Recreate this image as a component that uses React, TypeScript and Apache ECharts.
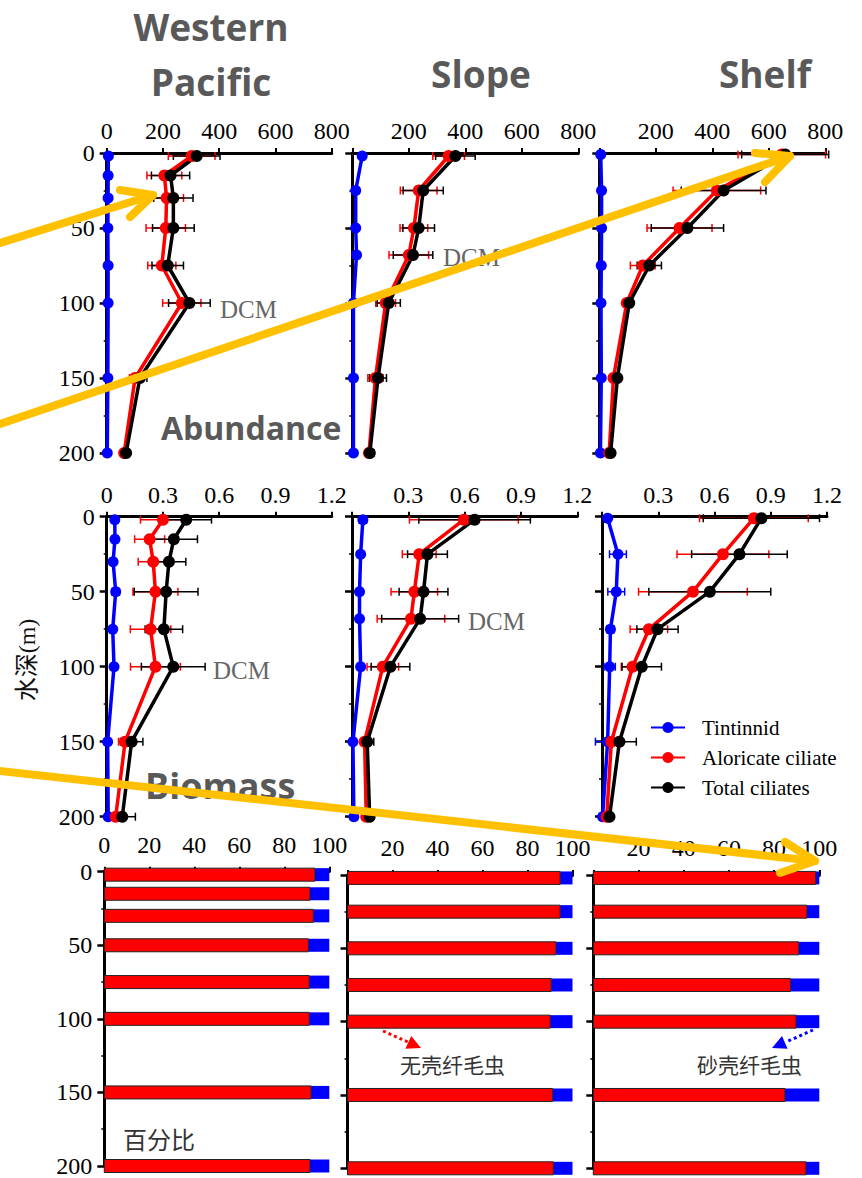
import React, { useEffect, useRef } from "react";
import * as echarts from "echarts";

// ---------- depths (m) ----------
const wpDepth = [2, 15, 30, 50, 75, 100, 150, 200];
const slopeDepth = [2, 25, 50, 68, 100, 150, 200];
const shelfDepth = [1, 25, 50, 75, 100, 150, 200];
const slopeBarDepth = [2, 25, 50, 75, 100, 150, 200];
const shelfBarDepth = [2, 25, 50, 75, 100, 150, 200];

// ---------- Abundance ----------
const wpAbTin = [6, 5, 5, 4, 5, 5, 4, 2];
const wpAbAlo = [302, 205, 213, 210, 196, 267, 101, 62];
const wpAbAloErr = [83, 62, 60, 70, 50, 68, 20, 8];
const wpAbTot = [320, 227, 237, 237, 217, 294, 118, 69];
const wpAbTotErr = [83, 68, 70, 74, 56, 74, 25, 10];

const slAbTin = [35, 12, 12, 15, 4, 4, 4];
const slAbAlo = [341, 235, 218, 200, 118, 82, 59];
const slAbAloErr = [56, 65, 49, 70, 35, 27, 12];
const slAbTot = [365, 251, 235, 215, 129, 91, 62];
const slAbTotErr = [70, 71, 56, 70, 41, 30, 15];

const shAbTin = [5, 8, 8, 7, 6, 7, 4];
const shAbAlo = [646, 416, 284, 154, 97, 50, 35];
const shAbAloErr = [155, 155, 115, 44, 10, 8, 5];
const shAbTot = [658, 440, 312, 177, 106, 64, 40];
const shAbTotErr = [154, 150, 128, 43, 12, 10, 6];

// ---------- Biomass ----------
const wpBmTin = [0.043, 0.044, 0.034, 0.048, 0.032, 0.039, 0.005, 0.008];
const wpBmTinErr = [0.01, 0.015, 0.005, 0.02, 0.005, 0.01, 0.005, 0.01];
const wpBmAlo = [0.3, 0.229, 0.248, 0.26, 0.234, 0.26, 0.098, 0.048];
const wpBmAloErr = [0.12, 0.08, 0.08, 0.12, 0.108, 0.133, 0.035, 0.03];
const wpBmTot = [0.424, 0.358, 0.332, 0.317, 0.305, 0.355, 0.133, 0.083];
const wpBmTotErr = [0.135, 0.126, 0.09, 0.17, 0.1, 0.17, 0.06, 0.07];

const slBmTin = [0.058, 0.046, 0.04, 0.04, 0.046, 0.005, 0.01];
const slBmTinErr = [0.02, 0.01, 0.01, 0.01, 0.01, 0.01, 0.005];
const slBmAlo = [0.596, 0.358, 0.332, 0.314, 0.164, 0.067, 0.076];
const slBmAloErr = [0.29, 0.09, 0.124, 0.18, 0.084, 0.02, 0.02];
const slBmTot = [0.653, 0.402, 0.381, 0.363, 0.205, 0.081, 0.094];
const slBmTotErr = [0.297, 0.106, 0.13, 0.205, 0.103, 0.035, 0.012];

const shBmTin = [0.03, 0.085, 0.076, 0.045, 0.041, 0.03, 0.003];
const shBmTinErr = [0.005, 0.045, 0.045, 0.02, 0.03, 0.065, 0.005];
const shBmAlo = [0.81, 0.645, 0.485, 0.25, 0.163, 0.05, 0.025];
const shBmAloErr = [0.29, 0.245, 0.29, 0.1, 0.06, 0.02, 0.01];
const shBmTot = [0.85, 0.733, 0.575, 0.296, 0.212, 0.093, 0.04];
const shBmTotErr = [0.31, 0.255, 0.325, 0.11, 0.105, 0.09, 0.01];

// ---------- Percentage (%) ----------
const wpPctAlo = [93.6, 91.4, 92.9, 90.7, 91.1, 91.1, 91.9, 91.4];
const wpPctTin = [6.4, 8.6, 7.1, 9.3, 8.9, 8.9, 8.1, 8.6];
const slPctAlo = [94.5, 94.5, 92.6, 90.5, 90.1, 91.2, 91.5];
const slPctTin = [5.5, 5.5, 7.4, 9.5, 9.9, 8.8, 8.5];
const shPctAlo = [98.4, 94.5, 90.9, 87.3, 89.7, 84.8, 94.1];
const shPctTin = [1.6, 5.5, 9.1, 12.7, 10.3, 15.2, 5.9];

// ---------- labels ----------
const seriesNames = ["Tintinnid", "Aloricate ciliate", "Total ciliates"];
const abTicks = { max: 800, interval: 200 };
const bmTicks = { max: 1.2, interval: 0.3 };
const pctTicks = { max: 100, interval: 20 };
const depthTicks = { max: 200, interval: 50 };

const SERIF = "'Liberation Serif', 'Times New Roman', serif";
const BOLD = "'Open Sans', 'Noto Sans', sans-serif";
const CJK = "'Noto Sans CJK SC', sans-serif";
const BLUE = "#0000ff";
const RED = "#ff0000";
const BLACK = "#000000";
const YELLOW = "#ffc000";

const grids = [
  { left: 106.7, top: 153, width: 225, height: 300 },
  { left: 352.3, top: 153, width: 226, height: 300 },
  { left: 599.3, top: 153, width: 226, height: 300 },
  { left: 106.7, top: 516.7, width: 225, height: 300 },
  { left: 352, top: 516.7, width: 225.3, height: 300 },
  { left: 602, top: 516.7, width: 225, height: 300 },
  { left: 104.3, top: 871.7, width: 225, height: 296.7 },
  { left: 347.5, top: 875, width: 225, height: 293.3 },
  { left: 593.3, top: 875, width: 226, height: 293.3 },
];

function pairs(xs: number[], ds: number[]) {
  return xs.map((v, i) => [v, ds[i]]);
}
function triples(xs: number[], ds: number[], es: number[]) {
  return xs.map((v, i) => [v, ds[i], es[i]]);
}

function errSeries(idx: number, data: number[][], color: string) {
  return {
    type: "custom",
    xAxisIndex: idx,
    yAxisIndex: idx,
    z: 3,
    clip: false,
    silent: true,
    encode: { x: 0, y: 1 },
    data,
    renderItem: (_p: any, api: any) => {
      const x = api.value(0);
      const y = api.value(1);
      const e = api.value(2);
      const a = api.coord([x - e, y]);
      const b = api.coord([x + e, y]);
      const h = 4;
      const st = { stroke: color, lineWidth: 1.5 };
      return {
        type: "group",
        children: [
          { type: "line", shape: { x1: a[0], y1: a[1], x2: b[0], y2: b[1] }, style: st },
          { type: "line", shape: { x1: a[0], y1: a[1] - h, x2: a[0], y2: a[1] + h }, style: st },
          { type: "line", shape: { x1: b[0], y1: b[1] - h, x2: b[0], y2: b[1] + h }, style: st },
        ],
      };
    },
  };
}

function lineSeries(idx: number, name: string, data: number[][], color: string, size: number) {
  return {
    type: "line",
    name,
    xAxisIndex: idx,
    yAxisIndex: idx,
    data,
    z: 4,
    clip: false,
    symbol: "circle",
    symbolSize: size,
    lineStyle: { color, width: 3.5 },
    itemStyle: { color },
  };
}

function barSeries(idx: number, depth: number[], alo: number[], tin: number[]) {
  return {
    type: "custom",
    xAxisIndex: idx,
    yAxisIndex: idx,
    z: 3,
    clip: false,
    silent: true,
    encode: { x: 1, y: 0 },
    data: depth.map((d, i) => [d, alo[i], tin[i]]),
    renderItem: (_p: any, api: any) => {
      const d = api.value(0);
      const a = api.value(1);
      const t = api.value(2);
      const p0 = api.coord([0, d]);
      const p1 = api.coord([a, d]);
      const p2 = api.coord([a + t, d]);
      const h = 13;
      return {
        type: "group",
        children: [
          {
            type: "rect",
            shape: { x: p1[0], y: p1[1] - h / 2, width: p2[0] - p1[0], height: h },
            style: { fill: BLUE },
          },
          {
            type: "rect",
            shape: { x: p0[0], y: p0[1] - h / 2, width: p1[0] - p0[0], height: h },
            style: { fill: RED, stroke: "#222", lineWidth: 1 },
          },
        ],
      };
    },
  };
}

function buildOption() {
  const ticksByRow = [abTicks, bmTicks, pctTicks];
  const xAxis = grids.map((_g, i) => {
    const row = Math.floor(i / 3);
    const col = i % 3;
    const t = ticksByRow[row];
    return {
      type: "value",
      gridIndex: i,
      position: "top",
      min: 0,
      max: t.max,
      interval: t.interval,
      axisLine: { show: true, onZero: false, lineStyle: { color: BLACK, width: 3 } },
      axisTick: { show: true, inside: false, length: 5, lineStyle: { color: BLACK, width: 2 } },
      splitLine: { show: false },
      axisLabel: {
        show: true,
        margin: row === 2 ? 15 : 10,
        color: BLACK,
        fontFamily: SERIF,
        fontSize: 24,
        formatter: (v: number) => {
          if (v === 0) return col === 0 ? "0" : "";
          return row === 1 ? v.toFixed(1) : String(v);
        },
      },
    };
  });
  const yAxis = grids.map((_g, i) => {
    const col = i % 3;
    return {
      type: "value",
      gridIndex: i,
      inverse: true,
      min: 0,
      max: depthTicks.max,
      interval: depthTicks.interval,
      axisLine: { show: true, onZero: false, lineStyle: { color: BLACK, width: 3 } },
      axisTick: { show: true, inside: false, length: 7, lineStyle: { color: BLACK, width: 2.5 } },
      minorTick: { show: true, splitNumber: 2, length: 3, lineStyle: { color: BLACK, width: 1.5 } },
      splitLine: { show: false },
      axisLabel: {
        show: col === 0,
        margin: 12,
        color: BLACK,
        fontFamily: SERIF,
        fontSize: 24,
      },
    };
  });

  const panels = [
    { d: wpDepth, tin: wpAbTin, tinE: null as number[] | null, alo: wpAbAlo, aloE: wpAbAloErr, tot: wpAbTot, totE: wpAbTotErr },
    { d: slopeDepth, tin: slAbTin, tinE: null, alo: slAbAlo, aloE: slAbAloErr, tot: slAbTot, totE: slAbTotErr },
    { d: shelfDepth, tin: shAbTin, tinE: null, alo: shAbAlo, aloE: shAbAloErr, tot: shAbTot, totE: shAbTotErr },
    { d: wpDepth, tin: wpBmTin, tinE: wpBmTinErr, alo: wpBmAlo, aloE: wpBmAloErr, tot: wpBmTot, totE: wpBmTotErr },
    { d: slopeDepth, tin: slBmTin, tinE: slBmTinErr, alo: slBmAlo, aloE: slBmAloErr, tot: slBmTot, totE: slBmTotErr },
    { d: shelfDepth, tin: shBmTin, tinE: shBmTinErr, alo: shBmAlo, aloE: shBmAloErr, tot: shBmTot, totE: shBmTotErr },
  ];

  const series: any[] = [];
  panels.forEach((p, i) => {
    if (p.tinE) series.push(errSeries(i, triples(p.tin, p.d, p.tinE), BLUE));
    series.push(errSeries(i, triples(p.alo, p.d, p.aloE), RED));
    series.push(errSeries(i, triples(p.tot, p.d, p.totE), BLACK));
    series.push(lineSeries(i, seriesNames[0], pairs(p.tin, p.d), BLUE, 11));
    series.push(lineSeries(i, seriesNames[1], pairs(p.alo, p.d), RED, 12));
    series.push(lineSeries(i, seriesNames[2], pairs(p.tot, p.d), BLACK, 12));
  });
  series.push(barSeries(6, wpDepth, wpPctAlo, wpPctTin));
  series.push(barSeries(7, slopeBarDepth, slPctAlo, slPctTin));
  series.push(barSeries(8, shelfBarDepth, shPctAlo, shPctTin));

  const txt = (text: string, x: number, y: number, size: number, opts: any = {}) => ({
    type: "text",
    x,
    y,
    z: 50,
    rotation: opts.rotation || 0,
    style: {
      text,
      fill: opts.fill || "#595959",
      fontSize: size,
      fontFamily: opts.family || SERIF,
      fontWeight: opts.weight || "normal",
      align: opts.align || "center",
      verticalAlign: "middle",
    },
  });
  const yl = { stroke: YELLOW, lineWidth: 8, lineCap: "round", lineJoin: "round" };

  const graphics: any[] = [
    txt("Western", 211, 26, 37, { family: BOLD, weight: "bold" }),
    txt("Pacific", 211, 81, 37, { family: BOLD, weight: "bold" }),
    txt("Slope", 481, 73, 37, { family: BOLD, weight: "bold" }),
    txt("Shelf", 765, 73, 37, { family: BOLD, weight: "bold" }),
    txt("Abundance", 161, 427, 32, { family: BOLD, weight: "bold", align: "left" }),
    txt("Biomass", 145, 785, 36, { family: BOLD, weight: "bold", align: "left" }),
    txt("DCM", 220, 309, 25, { align: "left", fill: "#666666" }),
    txt("DCM", 443, 257, 25, { align: "left", fill: "#666666" }),
    txt("DCM", 213, 670, 25, { align: "left", fill: "#666666" }),
    txt("DCM", 468, 621, 25, { align: "left", fill: "#666666" }),
    txt("水深(m)", 27, 660, 24, { family: SERIF + ", " + CJK, fill: "#111111", rotation: Math.PI / 2 }),
    txt("百分比", 123, 1138, 24, { family: CJK, fill: "#333333", align: "left" }),
    txt("无壳纤毛虫", 400, 1064, 21, { family: CJK, fill: "#333333", align: "left" }),
    txt("砂壳纤毛虫", 697, 1064, 21, { family: CJK, fill: "#333333", align: "left" }),
    {
      type: "line",
      z: 50,
      shape: { x1: 383, y1: 1031, x2: 409, y2: 1042.5 },
      style: { stroke: RED, lineWidth: 3, lineDash: [3, 3] },
    },
    {
      type: "polygon",
      z: 50,
      shape: { points: [[421, 1048], [405.4, 1048.7], [411.2, 1035.9]] },
      style: { fill: RED },
    },
    {
      type: "line",
      z: 50,
      shape: { x1: 813, y1: 1030, x2: 786, y2: 1042 },
      style: { stroke: BLUE, lineWidth: 3, lineDash: [3, 3] },
    },
    {
      type: "polygon",
      z: 50,
      shape: { points: [[772, 1048], [782, 1036], [787.6, 1048.8]] },
      style: { fill: BLUE },
    },
    { type: "line", z: 100, shape: { x1: -5, y1: 244.5, x2: 153, y2: 195 }, style: yl },
    { type: "polyline", z: 100, shape: { points: [[120, 190], [153, 195], [130, 217]] }, style: yl },
    { type: "line", z: 100, shape: { x1: -5, y1: 425.7, x2: 790, y2: 156 }, style: yl },
    { type: "polyline", z: 100, shape: { points: [[755, 153], [790, 156], [765, 182]] }, style: yl },
    { type: "line", z: 100, shape: { x1: -5, y1: 770.5, x2: 815, y2: 861 }, style: yl },
    { type: "polyline", z: 100, shape: { points: [[785, 842], [815, 861], [780, 873]] }, style: yl },
  ];

  return {
    animation: false,
    backgroundColor: "#ffffff",
    grid: grids,
    xAxis,
    yAxis,
    legend: {
      show: true,
      data: seriesNames,
      orient: "vertical",
      left: 645,
      top: 712,
      itemWidth: 34,
      itemHeight: 14,
      itemGap: 9,
      selectedMode: false,
      textStyle: { color: BLACK, fontFamily: SERIF, fontSize: 21, padding: [0, 0, 0, 12] },
    },
    series,
    graphic: { elements: graphics },
  };
}

export default function App() {
  const ref = useRef<HTMLDivElement>(null);
  useEffect(() => {
    if (!ref.current) return;
    const chart = echarts.init(ref.current, null, { renderer: "svg" });
    chart.setOption(buildOption() as any);
    return () => chart.dispose();
  }, []);
  return (
    <div
      ref={ref}
      style={{ position: "absolute", left: 0, top: 0, width: 862, height: 1178, background: "#fff" }}
    />
  );
}
